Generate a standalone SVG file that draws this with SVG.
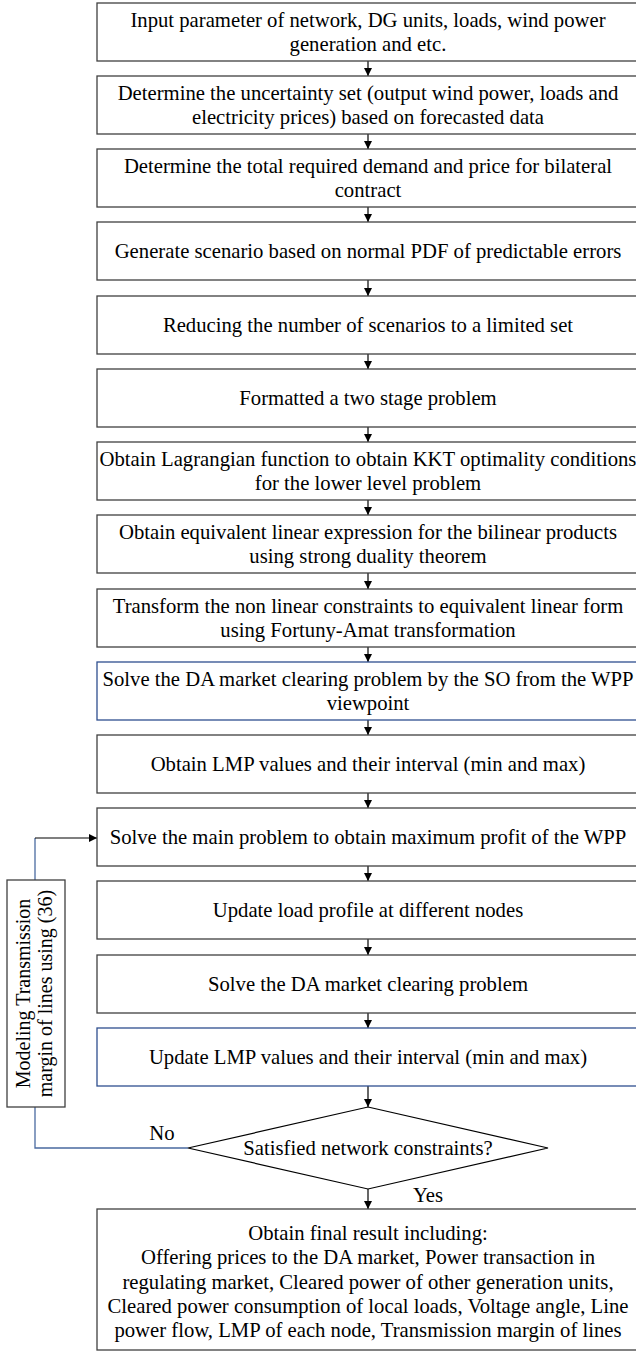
<svg xmlns="http://www.w3.org/2000/svg" width="636" height="1354" viewBox="0 0 636 1354">
<defs>
<style>
.box{fill:#fff;stroke:#404040;stroke-width:1.3}
.blue{fill:#fff;stroke:#2f4f8f;stroke-width:1.3}
text{font-family:"Liberation Serif","Times New Roman",serif;font-size:20.7px;fill:#000}
.c{text-anchor:middle}
.v{font-size:20px}
.ln{fill:none;stroke:#000;stroke-width:1.2}
.bl{fill:none;stroke:#4a6aa0;stroke-width:1.3}
</style>
<marker id="ah" markerUnits="userSpaceOnUse" markerWidth="8" markerHeight="8" refX="8" refY="4" orient="auto">
<path d="M0,0 L8,4 L0,8 z" fill="#000"/>
</marker>
</defs>
<rect width="636" height="1354" fill="#fff"/>
<g id="connectors">
<line class="ln" x1="368" y1="61" x2="368" y2="76" marker-end="url(#ah)"/>
<line class="ln" x1="368" y1="134" x2="368" y2="149" marker-end="url(#ah)"/>
<line class="ln" x1="368" y1="207" x2="368" y2="222" marker-end="url(#ah)"/>
<line class="ln" x1="368" y1="280" x2="368" y2="296" marker-end="url(#ah)"/>
<line class="ln" x1="368" y1="354" x2="368" y2="369" marker-end="url(#ah)"/>
<line class="ln" x1="368" y1="427" x2="368" y2="442" marker-end="url(#ah)"/>
<line class="ln" x1="368" y1="500" x2="368" y2="515" marker-end="url(#ah)"/>
<line class="ln" x1="368" y1="573" x2="368" y2="589" marker-end="url(#ah)"/>
<line class="ln" x1="368" y1="647" x2="368" y2="662" marker-end="url(#ah)"/>
<line class="ln" x1="368" y1="720" x2="368" y2="735" marker-end="url(#ah)"/>
<line class="ln" x1="368" y1="793" x2="368" y2="808" marker-end="url(#ah)"/>
<line class="ln" x1="368" y1="866" x2="368" y2="881" marker-end="url(#ah)"/>
<line class="ln" x1="368" y1="939" x2="368" y2="955" marker-end="url(#ah)"/>
<line class="ln" x1="368" y1="1013" x2="368" y2="1028" marker-end="url(#ah)"/>
<line class="ln" x1="368" y1="1086" x2="368" y2="1107" marker-end="url(#ah)"/>
<line class="ln" x1="368" y1="1189" x2="368" y2="1209" marker-end="url(#ah)"/>
<path class="bl" d="M188,1148 H35 V1107"/>
<path class="bl" d="M35,880 V838"/>
<path class="ln" d="M35,838 H97" marker-end="url(#ah)"/>
<text x="162" y="1140" class="c">No</text>
<text x="428" y="1202" class="c">Yes</text>
</g>
<g id="n1"><rect class="box" x="97" y="3" width="545" height="58"/><text class="c" x="368" y="27">Input parameter of network, DG units, loads, wind power</text><text class="c" x="368" y="51">generation and etc.</text></g>
<g id="n2"><rect class="box" x="97" y="76" width="545" height="58"/><text class="c" x="368" y="100">Determine the uncertainty set (output wind power, loads and</text><text class="c" x="368" y="124">electricity prices) based on forecasted data</text></g>
<g id="n3"><rect class="box" x="97" y="149" width="545" height="58"/><text class="c" x="368" y="173">Determine the total required demand and price for bilateral</text><text class="c" x="368" y="197">contract</text></g>
<g id="n4"><rect class="box" x="97" y="222" width="545" height="58"/><text class="c" x="368" y="258">Generate scenario based on normal PDF of predictable errors</text></g>
<g id="n5"><rect class="box" x="97" y="296" width="545" height="58"/><text class="c" x="368" y="332">Reducing the number of scenarios to a limited set</text></g>
<g id="n6"><rect class="box" x="97" y="369" width="545" height="58"/><text class="c" x="368" y="405">Formatted a two stage problem</text></g>
<g id="n7"><rect class="box" x="97" y="442" width="545" height="58"/><text class="c" x="368" y="466">Obtain Lagrangian function to obtain KKT optimality conditions</text><text class="c" x="368" y="490">for the lower level problem</text></g>
<g id="n8"><rect class="box" x="97" y="515" width="545" height="58"/><text class="c" x="368" y="539">Obtain equivalent linear expression for the bilinear products</text><text class="c" x="368" y="563">using strong duality theorem</text></g>
<g id="n9"><rect class="box" x="97" y="589" width="545" height="58"/><text class="c" x="368" y="613">Transform the non linear constraints to equivalent linear form</text><text class="c" x="368" y="637">using Fortuny-Amat transformation</text></g>
<g id="n10"><rect class="blue" x="97" y="662" width="545" height="58"/><text class="c" x="368" y="686">Solve the DA market clearing problem by the SO from the WPP</text><text class="c" x="368" y="710">viewpoint</text></g>
<g id="n11"><rect class="box" x="97" y="735" width="545" height="58"/><text class="c" x="368" y="771">Obtain LMP values and their interval (min and max)</text></g>
<g id="n12"><rect class="box" x="97" y="808" width="545" height="58"/><text class="c" x="368" y="844">Solve the main problem to obtain maximum profit of the WPP</text></g>
<g id="n13"><rect class="box" x="97" y="881" width="545" height="58"/><text class="c" x="368" y="917">Update load profile at different nodes</text></g>
<g id="n14"><rect class="box" x="97" y="955" width="545" height="58"/><text class="c" x="368" y="991">Solve the DA market clearing problem</text></g>
<g id="n15"><rect class="blue" x="97" y="1028" width="545" height="58"/><text class="c" x="368" y="1064">Update LMP values and their interval (min and max)</text></g>
<g id="n16"><polygon points="368,1107 548,1148 368,1189 188,1148" fill="#fff" stroke="#000" stroke-width="1.2"/><text class="c" x="368" y="1155">Satisfied network constraints?</text></g>
<g id="n17"><rect class="box" x="97" y="1209" width="545" height="141"/>
<text class="c" x="368" y="1240">Obtain final result including:</text>
<text class="c" x="368" y="1264">Offering prices to the DA market, Power transaction in</text>
<text class="c" x="368" y="1289">regulating market, Cleared power of other generation units,</text>
<text class="c" x="368" y="1313">Cleared power consumption of local loads, Voltage angle, Line</text>
<text class="c" x="368" y="1337">power flow, LMP of each node, Transmission margin of lines</text>
</g>
<g id="n18"><rect class="box" x="7" y="880" width="58" height="227"/>
<text class="c v" transform="translate(30,993.5) rotate(-90)">Modeling Transmission</text>
<text class="c v" transform="translate(52,993.5) rotate(-90)">margin of lines using (36)</text>
</g>
</svg>
